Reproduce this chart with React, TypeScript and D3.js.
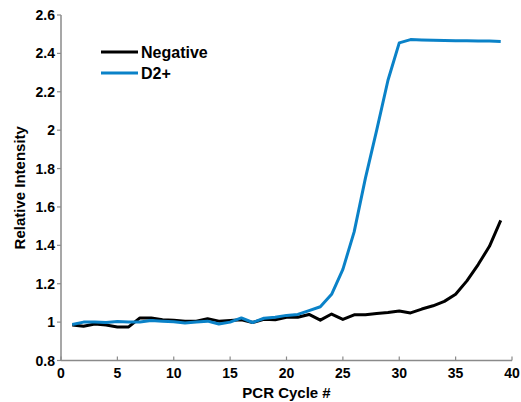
import React from "react";
import * as d3 from "d3";

const cycles = d3.range(1, 40);
const negative = [
  0.985, 0.978, 0.99, 0.985, 0.975, 0.975, 1.022, 1.022, 1.012, 1.01,
  1.005, 1.005, 1.018, 1.005, 1.008, 1.012, 0.998, 1.015, 1.012, 1.025,
  1.025, 1.04, 1.01, 1.042, 1.014, 1.038, 1.038, 1.045, 1.05, 1.058,
  1.048, 1.068, 1.085, 1.108, 1.145, 1.215, 1.3, 1.395, 1.53,
];
const d2plus = [
  0.988, 1.0, 1.0, 0.998, 1.003, 1.0, 1.0, 1.008, 1.005, 1.002,
  0.995, 1.0, 1.005, 0.99, 1.0, 1.022, 0.998, 1.02, 1.025, 1.035,
  1.04, 1.06, 1.08, 1.145, 1.275, 1.47, 1.75, 2.0, 2.26, 2.455,
  2.472, 2.47, 2.468, 2.467, 2.466, 2.466, 2.465, 2.464, 2.462,
];
const xTicks = [0, 5, 10, 15, 20, 25, 30, 35, 40];
const yTicks = [0.8, 1, 1.2, 1.4, 1.6, 1.8, 2, 2.2, 2.4, 2.6];
const seriesNames = ["Negative", "D2+"];
const seriesColors = ["#000000", "#0a82c8"];

export default function App() {
  const W = 521, H = 402;
  const x = d3.scaleLinear().domain([0, 40]).range([61, 512]);
  const y = d3.scaleLinear().domain([0.8, 2.6]).range([360.5, 15]);
  const line = d3
    .line<number>()
    .x((_, i) => x(cycles[i]))
    .y((d) => y(d));
  const font = "'Liberation Sans', Arial, sans-serif";
  const axisColor = "#8a8a8a";
  const series = [negative, d2plus];
  return (
    <svg
      width={W}
      height={H}
      style={{ position: "fixed", left: 0, top: 0, background: "#fff" }}
      fontFamily={font}
      fontWeight="bold"
    >
      <rect width={W} height={H} fill="#fff" />
      {/* axes */}
      <line x1={x(0)} x2={x(0)} y1={y(2.6)} y2={y(0.8)} stroke={axisColor} strokeWidth={1.5} />
      <line x1={x(0)} x2={x(40)} y1={y(0.8)} y2={y(0.8)} stroke={axisColor} strokeWidth={1.5} />
      {yTicks.map((t) => (
        <g key={"y" + t}>
          <line x1={x(0) - 4} x2={x(0)} y1={y(t)} y2={y(t)} stroke={axisColor} strokeWidth={1.2} />
          <text x={x(0) - 6} y={y(t)} dy="0.36em" textAnchor="end" fontSize={14} fill="#000">
            {String(t)}
          </text>
        </g>
      ))}
      {xTicks.map((t) => (
        <g key={"x" + t}>
          <line x1={x(t)} x2={x(t)} y1={y(0.8)} y2={y(0.8) - 4} stroke={axisColor} strokeWidth={1.2} />
          <text x={x(t)} y={y(0.8) + 17} textAnchor="middle" fontSize={14} fill="#000">
            {String(t)}
          </text>
        </g>
      ))}
      {/* axis labels */}
      <text x={(x(0) + x(40)) / 2} y={398} textAnchor="middle" fontSize={15} fill="#000">
        PCR Cycle #
      </text>
      <text
        transform={`translate(25, ${(y(0.8) + y(2.6)) / 2}) rotate(-90)`}
        textAnchor="middle"
        fontSize={15}
        fill="#000"
      >
        Relative Intensity
      </text>
      {/* lines */}
      {series.map((s, i) => (
        <path
          key={seriesNames[i]}
          d={line(s) || ""}
          fill="none"
          stroke={seriesColors[i]}
          strokeWidth={3}
          strokeLinejoin="round"
        />
      ))}
      {/* legend */}
      {seriesNames.map((n, i) => (
        <g key={"leg" + n}>
          <line x1={101} x2={138} y1={52 + i * 21} y2={52 + i * 21} stroke={seriesColors[i]} strokeWidth={3} />
          <text x={141} y={52 + i * 21} dy="0.36em" fontSize={16} fill="#000">
            {n}
          </text>
        </g>
      ))}
    </svg>
  );
}
